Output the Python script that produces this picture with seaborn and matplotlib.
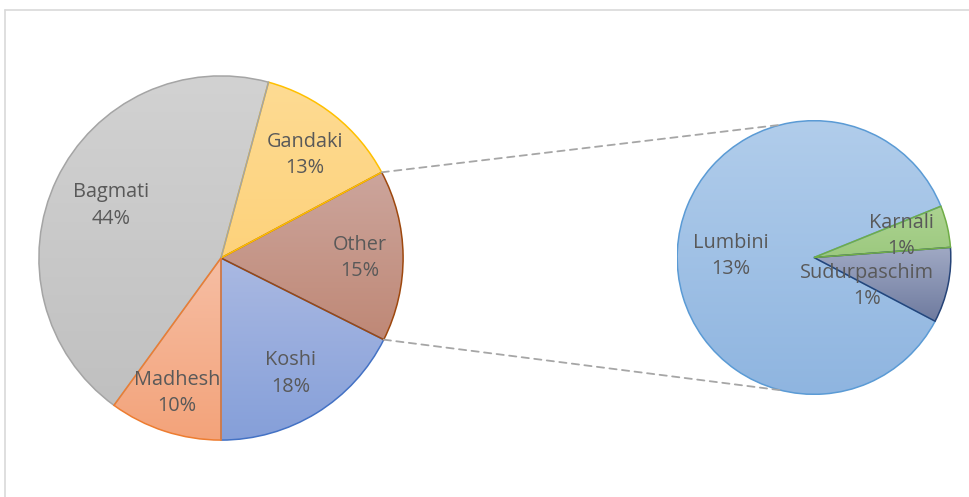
import numpy as np
import matplotlib
matplotlib.use("Agg")
import matplotlib.pyplot as plt
import seaborn as sns
from matplotlib.patches import Wedge, ConnectionPatch
from matplotlib.colors import LinearSegmentedColormap
from matplotlib.lines import Line2D

# ---- data ----
main_labels = ["Koshi", "Other", "Gandaki", "Bagmati", "Madhesh"]
main_values = [17.6, 15.2, 13.0, 44.2, 10.0]
sub_labels = ["Lumbini", "Sudurpaschim", "Karnali"]
sub_values = [13.1, 1.35, 0.75]
total = sum(main_values)

# ---- style ----
sns.set_theme(style="white")
plt.rcParams["font.family"] = ["Open Sans", "DejaVu Sans"]
TXT = "#595959"

main_grad = {
    "Koshi": ("#aab9e2", "#859fd9", "#4472c4"),
    "Other": ("#cca59c", "#bf8876", "#9e480e"),
    "Gandaki": ("#fedb93", "#fdd27b", "#ffc000"),
    "Bagmati": ("#d2d2d2", "#c0c0c0", "#a5a5a5"),
    "Madhesh": ("#f6bea4", "#f3a37a", "#ed7d31"),
}
sub_grad = {
    "Lumbini": ("#b1cdeb", "#8fb5e0", "#5b9bd5"),
    "Sudurpaschim": ("#a0a9c4", "#6f7b9f", "#264478"),
    "Karnali": ("#add391", "#9cc97f", "#70ad47"),
}

W, H = 969, 497
fig = plt.figure(figsize=(W / 100, H / 100), dpi=100)
fig.patch.set_facecolor("white")

# chart-area border (left and top visible)
fig.add_artist(Line2D([5 / W, 5 / W], [-0.1, 1 - 10 / H], color="#d9d9d9", lw=1.2, transform=fig.transFigure))
fig.add_artist(Line2D([5 / W, 1.1], [1 - 10 / H, 1 - 10 / H], color="#d9d9d9", lw=1.2, transform=fig.transFigure))


def make_axes(cx, cy, r):
    ax = fig.add_axes([(cx - r) / W, (H - cy - r) / H, 2 * r / W, 2 * r / H])
    ax.set_axis_off()
    return ax


def draw_pie(ax, labels, values, startangle, grads, label_pos):
    wedges, _ = ax.pie(values, startangle=startangle, counterclock=True, radius=1,
                       wedgeprops=dict(linewidth=0))
    for w, lab in zip(wedges, labels):
        top, bot, edge = grads[lab]
        w.set_facecolor(bot)
        ext = w.get_path().get_extents()
        cmap = LinearSegmentedColormap.from_list(lab, [top, bot])
        grad = np.linspace(0, 1, 256).reshape(-1, 1)
        im = ax.imshow(grad, cmap=cmap, aspect="auto", origin="upper",
                       extent=[ext.x0, ext.x1, ext.y0, ext.y1], zorder=1.5,
                       interpolation="bilinear")
        im.set_clip_path(w)
        ax.add_patch(Wedge((0, 0), 1, w.theta1, w.theta2, fill=False,
                           edgecolor=edge, lw=1.1, zorder=3))
    for lab, v in zip(labels, values):
        ang, rr = label_pos[lab]
        x, y = rr * np.cos(np.radians(ang)), rr * np.sin(np.radians(ang))
        ax.text(x, y, f"{lab}\n{round(v / total * 100)}%", ha="center", va="center",
                color=TXT, fontsize=14.3, linespacing=1.42, zorder=5)
    ax.set_xlim(-1.005, 1.005)
    ax.set_ylim(-1.005, 1.005)
    ax.set_aspect("equal")
    return wedges


# left pie
axL = make_axes(221, 258, 183)
posL = {"Bagmati": (154.5, 0.67), "Gandaki": (51, 0.73), "Other": (0, 0.76),
        "Koshi": (301, 0.74), "Madhesh": (252, 0.78)}
wL = draw_pie(axL, main_labels, main_values, 270, main_grad, posL)

# right pie
axR = make_axes(814, 257.5, 137.5)
posR = {"Lumbini": (179, 0.61), "Karnali": (14, 0.66), "Sudurpaschim": (-28, 0.44)}
wR = draw_pie(axR, sub_labels, sub_values, 22, sub_grad, posR)

# connector lines
other = wL[1]
for ang_l, ang_r in [(other.theta2, 104), (other.theta1, 256)]:
    p1 = (np.cos(np.radians(ang_l)), np.sin(np.radians(ang_l)))
    p2 = (np.cos(np.radians(ang_r)), np.sin(np.radians(ang_r)))
    con = ConnectionPatch(xyA=p1, coordsA=axL.transData, xyB=p2, coordsB=axR.transData,
                          color="#a6a6a6", lw=1.3, linestyle=(0, (4, 3)))
    fig.add_artist(con)

fig.savefig("out.png", dpi=100)
